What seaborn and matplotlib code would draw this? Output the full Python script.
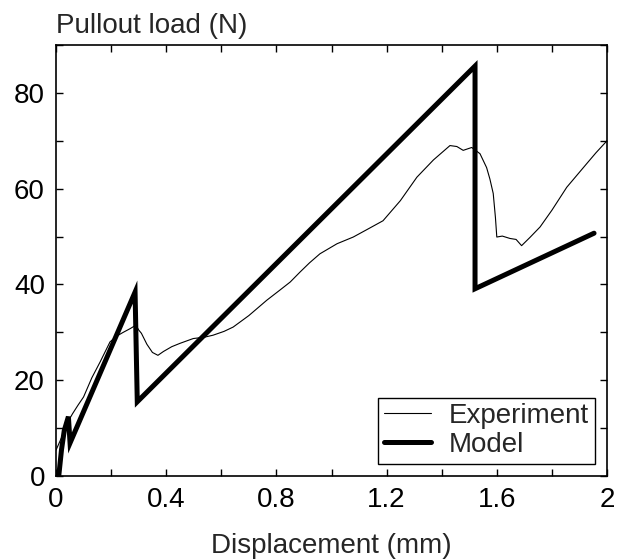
import numpy as np
import pandas as pd
import matplotlib
matplotlib.use("Agg")
import matplotlib.pyplot as plt
import seaborn as sns

# ------------------------------------------------------------
# Data (displacement in mm, load in N)
# ------------------------------------------------------------
exp_disp = [0.0, 0.02, 0.045, 0.06, 0.08, 0.10, 0.13, 0.16, 0.196, 0.22, 0.244,
            0.27, 0.29, 0.30, 0.31, 0.33, 0.35, 0.37, 0.39, 0.42, 0.45, 0.498,
            0.54, 0.57, 0.61, 0.643, 0.70, 0.765, 0.81, 0.85, 0.886, 0.92,
            0.958, 1.02, 1.079, 1.13, 1.187, 1.25, 1.31, 1.37, 1.43, 1.455,
            1.478, 1.509, 1.539, 1.563, 1.575, 1.587, 1.595, 1.60, 1.62,
            1.648, 1.67, 1.69, 1.72, 1.757, 1.80, 1.854, 1.926, 1.96, 2.0]
exp_load = [5.4, 8.0, 11.5, 13.0, 14.8, 16.5, 20.5, 23.8, 28.0, 29.2, 30.0,
            30.8, 31.5, 30.5, 29.8, 27.5, 25.8, 25.2, 26.0, 27.0, 27.7, 28.7,
            29.0, 29.4, 30.2, 31.1, 33.5, 36.7, 38.7, 40.5, 42.6, 44.5,
            46.4, 48.5, 49.9, 51.5, 53.3, 57.5, 62.4, 66.0, 69.0, 68.8,
            68.0, 68.6, 67.3, 64.4, 62.0, 59.0, 54.0, 49.9, 50.1,
            49.6, 49.4, 48.1, 49.8, 52.0, 55.5, 60.3, 65.2, 67.5, 70.0]

model_disp = [0.01, 0.02, 0.03, 0.045, 0.051, 0.287, 0.295, 1.521, 1.521, 1.953]
model_load = [0.0, 5.5, 9.5, 12.4, 6.9, 38.4, 15.5, 85.6, 39.1, 50.7]

x_ticks = np.arange(0, 2.01, 0.2)
y_ticks = np.arange(0, 91, 10)

sns.set_style("ticks")
plt.rcParams['font.family'] = ['Liberation Sans', 'DejaVu Sans']

fig, ax = plt.subplots(figsize=(6.18, 5.59), dpi=100)
fig.subplots_adjust(left=56 / 618, right=607 / 618, top=1 - 45 / 559, bottom=1 - 476 / 559)

exp_df = pd.DataFrame({'disp': exp_disp, 'load': exp_load})
model_df = pd.DataFrame({'disp': model_disp, 'load': model_load})

sns.lineplot(data=exp_df, x='disp', y='load', sort=False, estimator=None,
             color='black', linewidth=0.8, label='Experiment', ax=ax)
sns.lineplot(data=model_df, x='disp', y='load', sort=False, estimator=None,
             color='black', linewidth=3.6, label='Model', ax=ax,
             solid_joinstyle='miter')

ax.set_xlim(0, 2)
ax.set_ylim(0, 90)
ax.set_xticks(x_ticks)
ax.set_xticklabels([f"{v:g}" if i % 2 == 0 else "" for i, v in enumerate(x_ticks)])
ax.set_yticks(y_ticks)
ax.set_yticklabels([f"{v:g}" if i % 2 == 0 else "" for i, v in enumerate(y_ticks)])
ax.tick_params(direction='in', length=5, width=1, top=True, right=True,
               labelsize=20, colors='black', pad=8)
for s in ax.spines.values():
    s.set_visible(True)
    s.set_linewidth(1.2)
    s.set_color('black')

ax.set_xlabel('Displacement (mm)', fontsize=20, labelpad=14)
ax.set_ylabel('Pullout load (N)', fontsize=20, rotation=0, ha='left', va='bottom')
ax.yaxis.set_label_coords(0, 1.015)

leg = ax.legend(loc='lower right', fontsize=20, frameon=True, fancybox=False,
                edgecolor='black', framealpha=1, handlelength=1.7,
                handletextpad=0.65, labelspacing=0.1, borderpad=0.2,
                borderaxespad=0.45)
leg.get_frame().set_linewidth(1.0)

fig.savefig('out.png', dpi=100)
